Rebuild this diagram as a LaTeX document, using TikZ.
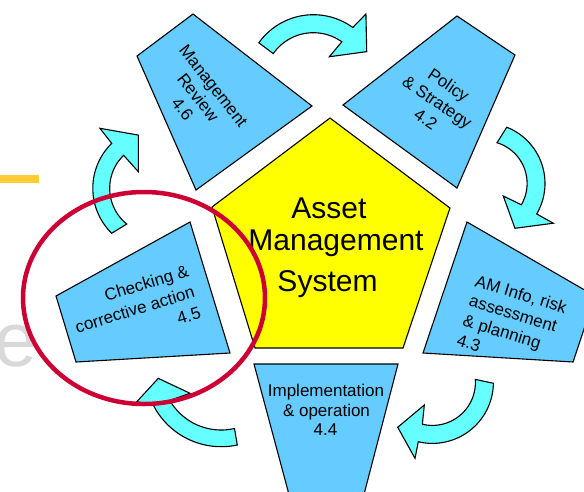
\documentclass[tikz,border=0pt]{standalone}
\usepackage{fontspec}
\setmainfont{Liberation Sans}
\usetikzlibrary{calc}
\definecolor{boxblue}{RGB}{102,204,255}
\definecolor{arrowcyan}{RGB}{102,255,255}
\definecolor{pentyellow}{RGB}{255,255,0}
\definecolor{ringred}{RGB}{204,0,51}
\definecolor{bargold}{RGB}{255,204,51}
\definecolor{ghostgray}{RGB}{217,217,217}
\newcommand\cyanbend[9]{%
  \begin{scope}[shift={(#1,#2)}]
    \filldraw[bendarrow] plot[domain=#5:#7,samples=40] ({#4*cos(\x)},{#4*sin(\x)}) -- #9 -- plot[domain=#8:#6,samples=40] ({#3*cos(\x)},{#3*sin(\x)}) -- cycle;
  \end{scope}}
\begin{document}
\begin{tikzpicture}[x=1pt,y=-1pt,
  panel/.style={draw=black,line width=1.1pt,fill=boxblue,line join=miter},
  bendarrow/.style={draw=black,line width=1.1pt,fill=arrowcyan,line join=miter},
  lbl/.style={font=\fontsize{17}{20}\selectfont,inner sep=0pt},
  biglbl/.style={font=\fontsize{30}{36}\selectfont,inner sep=0pt}]
\useasboundingbox (0,0) rectangle (584,491);

% centre pentagon
\draw[draw=black,line width=1.1pt,fill=pentyellow] (330,118) -- (450,208) -- (403,348) -- (255,348) -- (212,207) -- cycle;

% surrounding panels
\draw[panel] (193,14) -- (312,106) -- (196,190) -- (137,56) -- cycle;
\draw[panel] (457,16) -- (515,55) -- (457,188) -- (343,105) -- cycle;
\draw[panel] (467,222) -- (595,296) -- (573,362) -- (423,353) -- cycle;
\draw[panel] (254,364) -- (398,364) -- (362,502) -- (291,502) -- cycle;
\draw[panel] (190,222) -- (230,353) -- (76,362) -- (56,296) -- cycle;

% curved arrows
\cyanbend{313.4}{81.7}{49}{67}{-144.5}{-145}{-54}{-54.5}{(-52.2:85.7) -- (-29.4:61.2) -- (-57.5:29.6)}
\cyanbend{484.6}{183.4}{42.5}{60.4}{-68.5}{-73}{30.4}{30.2}{(30.1:79.4) -- (55.9:54.2) -- (34:22.5)}
\cyanbend{432.4}{382.4}{43}{61}{0.8}{-4}{103.4}{103.5}{(102.9:77.9) -- (127.7:56.7) -- (109.7:24)}
\cyanbend{221.2}{370.5}{59.5}{76.2}{77.8}{77.1}{153}{149.8}{(159.7:90) -- (172.9:63.4) -- (143.8:38.6)}
\cyanbend{155.7}{188.3}{46}{62.9}{134.4}{129}{225.6}{225.8}{(227.1:81.9) -- (251.9:56) -- (223.7:24)}

% centre text
\node[biglbl,anchor=base] (ams1) at (329,218.3) {Asset};
\node[biglbl,anchor=base] (ams2) at (336,250.7) {Management};
\node[biglbl,anchor=base] (ams3) at (327.5,291.7) {System};

% Management Review
\node[lbl,rotate=-52,anchor=base] (mr1) at (209,89.5) {Management};
\node[lbl,rotate=-52,anchor=base] (mr2) at (193.5,101) {Review};
\node[lbl,rotate=-52,anchor=base] (mr3) at (178,112.7) {4.6};

% Policy & Strategy
\node[lbl,rotate=-34,anchor=base] (ps1) at (445.5,90) {Policy};
\node[lbl,rotate=-34,anchor=base] (ps2) at (434,107) {\& Strategy};
\node[lbl,rotate=-34,anchor=base] (ps3) at (422.5,124) {4.2};

% AM Info
\node[lbl,rotate=-17,anchor=base west] (am1) at (474,286) {AM Info, risk};
\node[lbl,rotate=-17,anchor=base west] (am2) at (467.9,305.7) {assessment};
\node[lbl,rotate=-17,anchor=base west] (am3) at (461.8,325.4) {\& planning};
\node[lbl,rotate=-17,anchor=base west] (am4) at (455.7,345.1) {4.3};

% Implementation
\node[lbl,anchor=base] (im1) at (326,396.7) {Implementation};
\node[lbl,anchor=base] (im2) at (326.5,416) {\& operation};
\node[lbl,anchor=base] (im3) at (325.5,435.7) {4.4};

% Checking
\node[lbl,rotate=17,anchor=base east] (ck1) at (190,276) {Checking \&};
\node[lbl,rotate=17,anchor=base east] (ck2) at (196,297) {corrective action};
\node[lbl,rotate=17,anchor=base east] (ck3) at (202,318) {4.5};

% background fragments
\node[font=\fontsize{77}{80}\selectfont,text=ghostgray,anchor=base west,inner sep=0pt] (ghost) at (-6,366) {e};
\fill[bargold] (0,175) rectangle (39,182.7);

% red ring
\draw[ringred,line width=4.5pt] (144,298) ellipse [x radius=121, y radius=106];
\end{tikzpicture}
\end{document}
